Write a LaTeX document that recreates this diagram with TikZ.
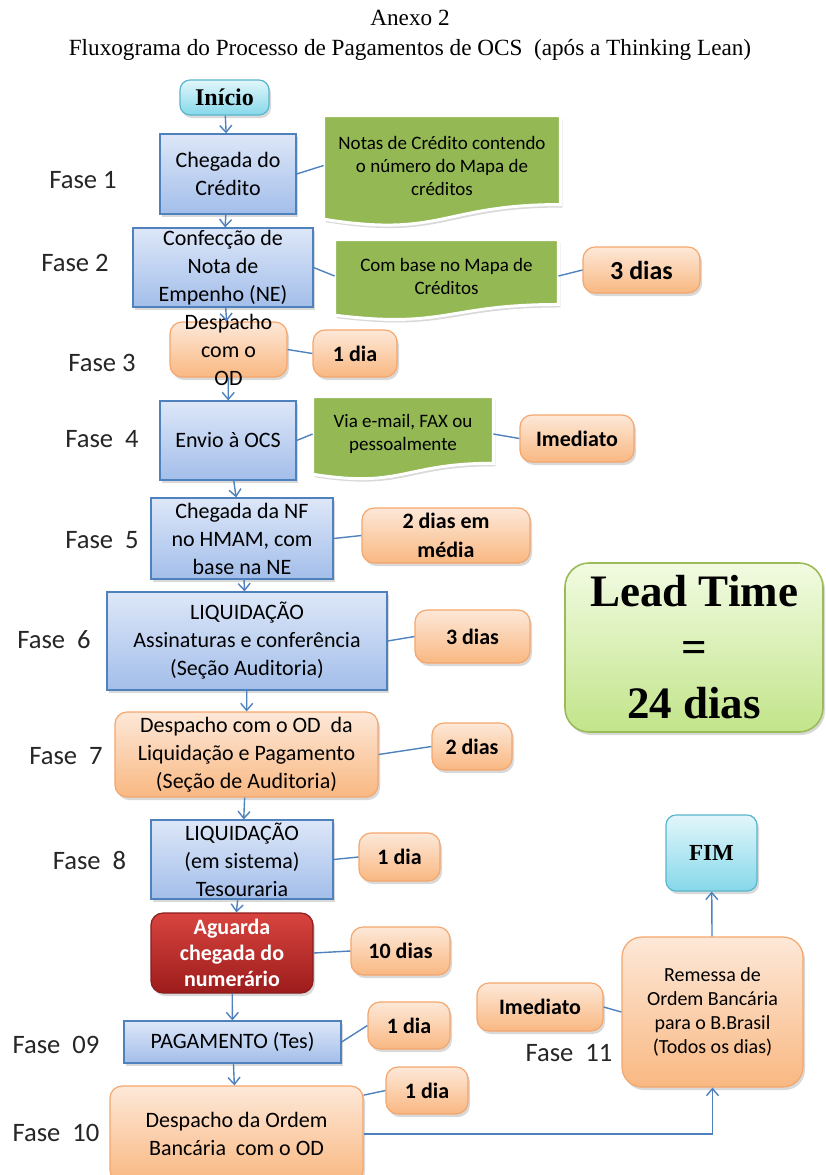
\documentclass[tikz,border=0pt]{standalone}
\usepackage{fontspec}
\setmainfont{Carlito}
\newfontfamily\serifa{Liberation Serif}
\usetikzlibrary{calc,shadows,arrows.meta,backgrounds}

\definecolor{azulborda}{HTML}{4F81BD}
\definecolor{azulclaro}{HTML}{DDE7F8}
\definecolor{azulescuro}{HTML}{A3BEEA}
\definecolor{laranjaborda}{HTML}{F4A66C}
\definecolor{laranjaclaro}{HTML}{FDE8D8}
\definecolor{laranjaescuro}{HTML}{F9B882}
\definecolor{cianoborda}{HTML}{5AB6CC}
\definecolor{cianoclaro}{HTML}{E2F6FA}
\definecolor{cianoescuro}{HTML}{86D8EA}
\definecolor{vermelhoclaro}{HTML}{D8443F}
\definecolor{vermelhoescuro}{HTML}{9C1C1C}
\definecolor{vermelhoborda}{HTML}{8A1C1C}
\definecolor{verdedoc}{HTML}{93B854}
\definecolor{verdeclaro}{HTML}{F2FBE2}
\definecolor{verdeescuro}{HTML}{C2E48A}
\definecolor{verdeborda}{HTML}{9BBB59}

\tikzset{
  sombra/.style={drop shadow={opacity=0.3, shadow xshift=1pt, shadow yshift=-1.5pt}},
  processo/.style={draw=azulborda, line width=0.6pt, top color=azulclaro, bottom color=azulescuro,
    align=center, inner sep=1pt, font=\fontsize{11}{14}\selectfont, sombra},
  despacho/.style={draw=laranjaborda, line width=0.6pt, rounded corners=6pt, top color=laranjaclaro,
    bottom color=laranjaescuro, align=center, inner sep=1pt, font=\fontsize{11}{14}\selectfont, sombra},
  prazo/.style={despacho, font=\bfseries\fontsize{11}{14.5}\selectfont},
  terminal/.style={draw=cianoborda, line width=0.6pt, rounded corners=5pt, top color=cianoclaro,
    bottom color=cianoescuro, inner sep=1pt, font=\serifa\bfseries\fontsize{12}{14}\selectfont, sombra},
  espera/.style={draw=vermelhoborda, line width=0.6pt, rounded corners=6pt, top color=vermelhoclaro,
    bottom color=vermelhoescuro, align=center, inner sep=1pt, text=white,
    font=\bfseries\fontsize{11}{13}\selectfont, sombra},
  lead/.style={draw=verdeborda, line width=0.8pt, rounded corners=12pt, top color=verdeclaro,
    bottom color=verdeescuro, align=center, font=\serifa\bfseries\fontsize{22.5}{28}\selectfont, sombra},
  nota/.style={align=center, inner sep=1pt, font=\fontsize{9.5}{11.5}\selectfont},
  fase/.style={font=\fontsize{13.3}{16}\selectfont, text=black!85},
  liga/.style={draw=azulborda, line width=0.7pt},
  fluxo/.style={liga, -{Straight Barb[length=3.5pt,width=6pt]}},
}

\newcommand\documento[1]{%
  \begin{pgfonlayer}{background}
  \filldraw[fill=verdedoc, draw=white, line width=1.5pt, sombra]
    let \p1=(#1.north west), \p2=(#1.south east), \n1={(\y1-\y2)/0.9} in
    (\x1,\y1) -- (\x2,\y1) -- (\x2,{\y1-0.802*\n1})
    .. controls ({(\x1+\x2)/2},{\y1-0.802*\n1}) and ({(\x1+\x2)/2},{\y1-1.107*\n1}) .. (\x1,{\y1-0.934*\n1})
    -- cycle;
  \end{pgfonlayer}}

\begin{document}
\begin{tikzpicture}[x=0.5pt,y=-0.5pt]
\useasboundingbox (0,0) rectangle (826,1175);
\clip (0,0) rectangle (826,1175);

\node (titulo) [align=center, font=\serifa\fontsize{11.6}{15}\selectfont] at (410,35)
  {Anexo 2\\Fluxograma do Processo de Pagamentos de OCS\ \ (após a Thinking Lean)};

\node (inicio) [terminal, minimum width=44.5pt, minimum height=17.5pt] at (224.5,97.5) {Início};
\node (chegada) [processo, minimum width=68pt, minimum height=40pt] at (228,174) {Chegada do\\Crédito};
\node (doc1) [nota, minimum width=118pt, minimum height=49.5pt] at (442,165.5)
  {Notas de Crédito contendo\\o número do Mapa de\\créditos};
\documento{doc1}
\node (confeccao) [processo, minimum width=90pt, minimum height=39.5pt] at (223,267.5)
  {Confecção de\\Nota de\\Empenho (NE)};
\node (doc2) [nota, minimum width=111.5pt, minimum height=36pt] at (446.5,276)
  {Com base no Mapa de\\Créditos};
\documento{doc2}
\node (tres2) [prazo, font=\bfseries\fontsize{13}{15}\selectfont, minimum width=58.5pt, minimum height=23pt]
  at (641.5,270) {3 dias};
\node (despacho3) [despacho, minimum width=58.5pt, minimum height=27.5pt,
  label={[align=center, font=\fontsize{11}{14}\selectfont]center:Despacho\\com o\\OD}] at (228.5,349.5) {};
\node (umdia3) [prazo, minimum width=42pt, minimum height=23.5pt] at (355,353.5) {1 dia};
\node (envio) [processo, minimum width=68pt, minimum height=39.5pt] at (228,440.5) {Envio à OCS};
\node (doc3) [nota, minimum width=90pt, minimum height=37pt] at (403,434)
  {Via e-mail, FAX ou\\pessoalmente};
\documento{doc3}
\node (imediato4) [prazo, minimum width=57pt, minimum height=23.5pt] at (577,438.5) {Imediato};
\node (chegadanf) [processo, minimum width=91pt, minimum height=40.5pt] at (242,538.5)
  {Chegada da NF\\no HMAM, com\\base na NE};
\node (doisdias) [prazo, minimum width=84pt, minimum height=27.5pt] at (446,535.5) {2 dias em\\média};
\node (liq6) [processo, minimum width=140pt, minimum height=49pt] at (247,641)
  {LIQUIDAÇÃO\\Assinaturas e conferência\\(Seção Auditoria)};
\node (tres6) [prazo, minimum width=57.5pt, minimum height=26.5pt] at (472.5,636.5) {3 dias};
\node (leadtime) [lead, minimum width=129pt, minimum height=84.5pt] at (694,647.5) {Lead Time\\=\\24 dias};
\node (desp7) [despacho, minimum width=131.5pt, minimum height=42.5pt] at (246.5,754.5)
  {Despacho com o OD\ \ da\\Liquidação e Pagamento\\(Seção de Auditoria)};
\node (dois7) [prazo, minimum width=40pt, minimum height=23.5pt] at (472,746.5) {2 dias};
\node (liq8) [processo, minimum width=91pt, minimum height=39.5pt] at (242,859.5)
  {LIQUIDAÇÃO\\(em sistema)\\Tesouraria};
\node (umdia8) [prazo, minimum width=40.5pt, minimum height=24pt] at (399.5,857) {1 dia};
\node (aguarda) [espera, minimum width=81pt, minimum height=40pt] at (232,953)
  {Aguarda\\chegada do\\numerário};
\node (dez) [prazo, minimum width=49.5pt, minimum height=24pt] at (400.5,951) {10 dias};
\node (pag) [processo, minimum width=108.5pt, minimum height=21pt] at (232.5,1042) {PAGAMENTO (Tes)};
\node (umdia9) [prazo, minimum width=41pt, minimum height=23.5pt] at (409,1025.5) {1 dia};
\node (desp10) [despacho, minimum width=126.5pt, minimum height=48pt] at (236.5,1134)
  {Despacho da Ordem\\Bancária\ \ com o OD};
\node (umdia10) [prazo, minimum width=41pt, minimum height=23.5pt] at (427,1090.5) {1 dia};
\node (remessa) [despacho, rounded corners=10pt, font=\fontsize{10}{12}\selectfont,
  minimum width=90.5pt, minimum height=75pt] at (712.5,1012)
  {Remessa de\\Ordem Bancária\\para o B.Brasil\\(Todos os dias)};
\node (imediato11) [prazo, minimum width=63pt, minimum height=24pt] at (540,1007) {Imediato};
\node (fim) [terminal, font=\serifa\bfseries\fontsize{11.5}{14}\selectfont,
  minimum width=45.5pt, minimum height=38pt] at (711.5,853) {FIM};

\node (fase1) [fase] at (83,180) {Fase 1};
\node (fase2) [fase] at (75,263) {Fase 2};
\node (fase3) [fase] at (102,363) {Fase 3};
\node (fase4) [fase] at (102,439) {Fase\ \ 4};
\node (fase5) [fase] at (102,540) {Fase\ \ 5};
\node (fase6) [fase] at (54,640) {Fase\ \ 6};
\node (fase7) [fase] at (66,756) {Fase\ \ 7};
\node (fase8) [fase] at (89.5,860) {Fase\ \ 8};
\node (fase9) [fase] at (56,1045) {Fase\ \ 09};
\node (fase10) [fase] at (56,1133) {Fase\ \ 10};
\node (fase11) [fase] at (569,1053) {Fase\ \ 11};

\draw [fluxo] (inicio) -- (chegada);
\draw [fluxo] (chegada) -- (confeccao);
\draw [fluxo] (confeccao) -- (despacho3);
\draw [fluxo] (despacho3) -- (envio);
\draw [fluxo] (envio) -- (chegadanf);
\draw [fluxo] (chegadanf) -- (liq6);
\draw [fluxo] (liq6) -- (desp7);
\draw [fluxo] (desp7) -- (liq8);
\draw [fluxo] (liq8) -- (aguarda);
\draw [fluxo] (aguarda) -- (pag);
\draw [fluxo] (pag) -- (desp10);
\draw [fluxo] (desp10.east) -| (remessa.south);
\draw [fluxo] (remessa) -- (fim);

\draw [liga] (chegada.east) -- (doc1.west);
\draw [liga] (confeccao.east) -- (doc2.west);
\draw [liga] (doc2.east) -- (tres2.west);
\draw [liga] (despacho3.east) -- (umdia3.west);
\draw [liga] (envio.east) -- (doc3.west);
\draw [liga] (doc3.east) -- (imediato4.west);
\draw [liga] (chegadanf.east) -- (doisdias.west);
\draw [liga] (liq6.east) -- (tres6.west);
\draw [liga] (desp7.east) -- (dois7.west);
\draw [liga] (liq8.east) -- (umdia8.west);
\draw [liga] (aguarda.east) -- (dez.west);
\draw [liga] (pag.east) -- (umdia9.west);
\draw [liga] (desp10.17) -- (umdia10.west);
\draw [liga] (imediato11.east) -- (remessa.west);
\end{tikzpicture}
\end{document}
